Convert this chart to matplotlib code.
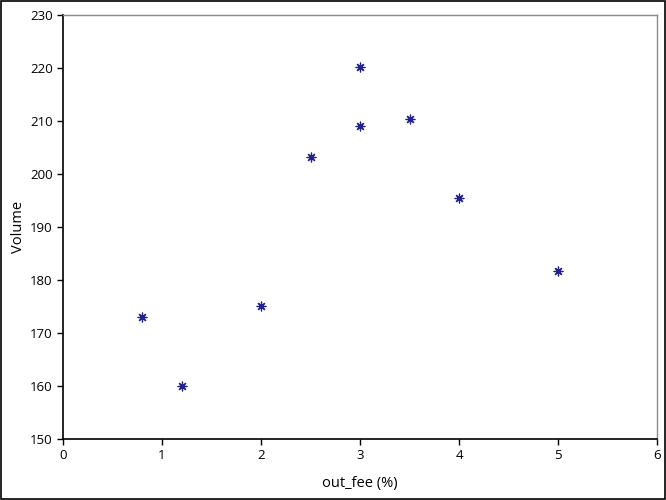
import matplotlib
matplotlib.use('Agg')
import matplotlib.pyplot as plt

# data
out_fee = [0.8, 1.2, 2.0, 2.5, 3.0, 3.0, 3.5, 4.0, 5.0]
volume = [173.0, 160.0, 175.0, 203.2, 220.2, 209.1, 210.4, 195.5, 181.7]

x_ticks = [0, 1, 2, 3, 4, 5, 6]
y_ticks = [150, 160, 170, 180, 190, 200, 210, 220, 230]

plt.rcParams['font.family'] = ['Open Sans', 'DejaVu Sans']

fig = plt.figure(figsize=(6.66, 5.0), dpi=100, facecolor='white')
ax = fig.add_axes([63/666, 1 - 439/500, (657 - 63)/666, (439 - 15)/500])

ax.scatter(out_fee, volume, marker=(8, 2, 0), s=40, color='#22228c',
           linewidths=0.9, zorder=3)

ax.set_xlim(0, 6)
ax.set_ylim(150, 230)
ax.set_xticks(x_ticks)
ax.set_yticks(y_ticks)
ax.tick_params(direction='out', length=4, width=1, labelsize=9.5, colors='black')
for side in ['left', 'bottom']:
    ax.spines[side].set_color('black')
    ax.spines[side].set_linewidth(1.2)
for side in ['top', 'right']:
    ax.spines[side].set_color('#8c8c8c')
    ax.spines[side].set_linewidth(1.0)

ax.set_xlabel('out_fee (%)', fontsize=10.5, labelpad=10)
ax.set_ylabel('Volume', fontsize=10.5)
ax.yaxis.set_label_coords(-0.062, 0.5)

# thin frame round the whole picture
fig.patches.append(plt.Rectangle((0.0015, 0.002), 0.997, 0.996, transform=fig.transFigure,
                                 fill=False, edgecolor='black', linewidth=1.2))

plt.savefig('out.png', dpi=100, facecolor=fig.get_facecolor())
